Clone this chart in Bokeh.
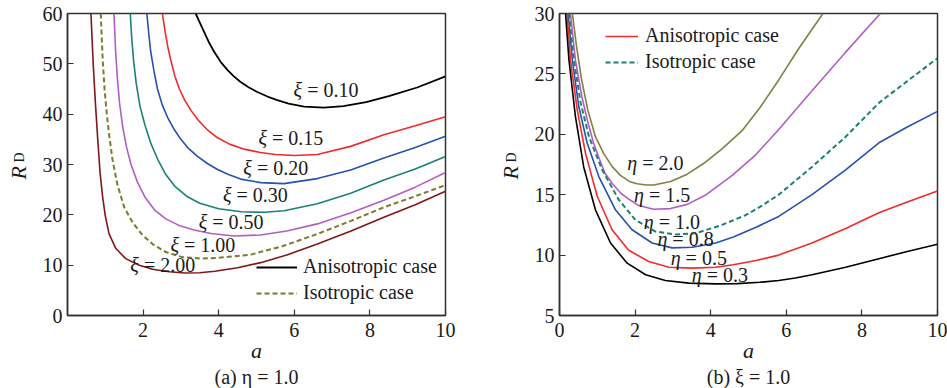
from bokeh.plotting import figure
from bokeh.layouts import row
from bokeh.models import Range1d, Label, Legend, LegendItem, FixedTicker, Title, LinearAxis
from bokeh.embed import file_html
from bokeh.resources import INLINE

FONT = "Liberation Serif"
NB = "\u00a0"

# ---------------- Panel (a): eta = 1.0 ----------------
a_xi010_x = [3.39, 3.50, 3.61, 3.74, 3.88, 4.05, 4.23, 4.40, 4.58, 4.80, 5.02, 5.29, 5.55, 5.85, 6.26, 6.78, 7.30, 7.90, 8.50, 9.25, 10.0]
a_xi010_y = [60, 58.2, 56.4, 54.3, 52.4, 50.4, 48.8, 47.5, 46.4, 45.3, 44.4, 43.5, 42.8, 42.1, 41.5, 41.3, 41.6, 42.4, 43.6, 45.3, 47.5]

a_xi015_x = [2.51, 2.58, 2.65, 2.74, 2.84, 2.96, 3.10, 3.27, 3.46, 3.70, 3.97, 4.30, 4.70, 5.10, 5.50, 6.00, 6.61, 7.49, 8.37, 9.20, 10.0]
a_xi015_y = [60, 56.5, 53.5, 50.5, 47.6, 45.0, 42.8, 40.7, 38.8, 36.9, 35.3, 34.0, 33.0, 32.4, 32.0, 31.8, 32.0, 33.6, 35.9, 37.7, 39.5]

a_xi020_x = [2.10, 2.15, 2.20, 2.29, 2.38, 2.50, 2.65, 2.82, 3.00, 3.20, 3.44, 3.70, 3.97, 4.26, 4.58, 5.11, 5.73, 6.61, 7.49, 8.37, 9.20, 10.0]
a_xi020_y = [60, 56, 52.5, 48.5, 45.0, 42.0, 39.3, 37.0, 35.0, 33.2, 31.6, 30.2, 29.0, 28.0, 27.1, 26.4, 26.2, 27.2, 28.9, 31.3, 33.4, 35.6]

a_xi030_x = [1.66, 1.70, 1.75, 1.82, 1.92, 2.05, 2.20, 2.40, 2.60, 2.85, 3.15, 3.50, 4.00, 4.60, 5.20, 5.73, 6.61, 7.49, 8.37, 9.20, 10.0]
a_xi030_y = [60, 55, 50.5, 46, 41.5, 37.8, 34.3, 30.8, 28.0, 25.6, 23.7, 22.3, 21.2, 20.6, 20.5, 20.8, 22.2, 24.3, 26.9, 29.1, 31.6]

a_xi050_x = [1.23, 1.27, 1.32, 1.38, 1.46, 1.56, 1.68, 1.85, 2.05, 2.30, 2.60, 2.95, 3.35, 3.80, 4.40, 5.11, 5.80, 6.61, 7.50, 8.37, 9.20, 10.0]
a_xi050_y = [60, 53, 47, 42, 37.5, 33.5, 30, 26.5, 23.5, 21.0, 19.2, 17.9, 17.0, 16.3, 15.8, 16.0, 16.8, 18.2, 20.4, 22.9, 25.5, 28.4]

a_xi100_x = [0.88, 0.93, 0.98, 1.04, 1.10, 1.19, 1.32, 1.50, 1.72, 1.98, 2.25, 2.60, 3.04, 3.57, 4.05, 4.85, 5.70, 6.61, 7.50, 8.37, 9.20, 10.0]
a_xi100_y = [60, 51, 45, 40, 36, 31, 26, 21.5, 18.5, 16.0, 14.2, 12.6, 11.6, 11.3, 11.5, 12.1, 13.8, 16.2, 18.8, 21.5, 23.7, 25.9]

a_xi200_x = [0.62, 0.68, 0.74, 0.80, 0.86, 0.93, 1.00, 1.10, 1.28, 1.54, 1.90, 2.25, 2.69, 3.10, 3.50, 3.90, 4.50, 5.11, 5.80, 6.61, 7.50, 8.37, 9.20, 10.0]
a_xi200_y = [60, 50, 42, 35, 28.5, 23.5, 19.8, 16.2, 13.3, 11.3, 10.0, 9.2, 8.7, 8.45, 8.5, 8.8, 9.5, 10.5, 12.0, 14.2, 16.8, 19.5, 22.0, 24.7]

a_label_sym = "ξ"
a_label_val = ["= 0.10", "= 0.15", "= 0.20", "= 0.30", "= 0.50", "= 1.00", "= 2.00"]
a_label_x = [6.83, 5.90, 5.50, 4.96, 4.32, 3.57, 2.51]
a_label_y = [44.8, 35.3, 29.3, 23.9, 18.5, 14.1, 10.0]
a_xticks = [2, 4, 6, 8, 10]
a_yticks = [0, 10, 20, 30, 40, 50, 60]

# ---------------- Panel (b): xi = 1.0 ----------------
b_eta20_x = [0.34, 0.45, 0.58, 0.75, 0.95, 1.17, 1.40, 1.61, 1.85, 2.05, 2.30, 2.49, 2.94, 3.38, 3.82, 4.30, 4.83, 5.30, 5.80, 6.33, 6.97]
b_eta20_y = [30, 27.3, 24.6, 22.0, 19.8, 18.4, 17.3, 16.6, 16.1, 15.9, 15.8, 15.8, 16.1, 16.7, 17.6, 18.8, 20.3, 22.2, 24.5, 27.1, 30]

b_eta15_x = [0.29, 0.42, 0.60, 0.75, 0.90, 1.05, 1.20, 1.40, 1.63, 1.85, 2.10, 2.49, 2.94, 3.38, 3.88, 4.57, 5.19, 5.80, 6.68, 7.57, 8.49]
b_eta15_y = [30, 26.15, 23.0, 21.0, 19.3, 18.0, 16.8, 15.9, 15.1, 14.6, 14.1, 13.8, 13.85, 14.2, 15.0, 16.6, 18.3, 20.4, 23.6, 26.8, 30]

b_iso_x = [0.25, 0.38, 0.56, 0.78, 1.13, 1.57, 2.01, 2.54, 3.07, 3.60, 4.30, 4.92, 5.36, 5.80, 6.68, 7.57, 8.45, 9.20, 10.0]
b_iso_y = [30, 26.15, 22.6, 19.8, 17.05, 14.57, 12.9, 11.95, 11.7, 11.8, 12.5, 13.3, 14.1, 15.0, 17.3, 19.8, 22.6, 24.4, 26.3]

b_eta08_x = [0.23, 0.34, 0.51, 0.73, 1.04, 1.48, 1.92, 2.45, 2.98, 3.51, 4.13, 4.60, 5.20, 5.80, 6.68, 7.57, 8.45, 9.20, 10.0]
b_eta08_y = [30, 26.15, 22.3, 19.3, 16.5, 13.75, 12.1, 11.0, 10.6, 10.65, 11.0, 11.5, 12.3, 13.2, 15.0, 17.05, 19.3, 20.6, 21.9]

b_eta05_x = [0.20, 0.29, 0.47, 0.69, 1.00, 1.39, 1.83, 2.36, 2.89, 3.51, 4.13, 4.60, 5.20, 5.80, 6.68, 7.57, 8.45, 9.20, 10.0]
b_eta05_y = [30, 26.15, 22.0, 18.4, 14.85, 12.1, 10.4, 9.47, 9.0, 8.92, 9.0, 9.2, 9.55, 10.0, 11.0, 12.2, 13.5, 14.4, 15.3]

b_eta03_x = [0.16, 0.25, 0.42, 0.64, 0.95, 1.35, 1.79, 2.28, 2.80, 3.42, 4.13, 4.70, 5.30, 5.80, 6.24, 6.68, 7.57, 8.45, 9.20, 10.0]
b_eta03_y = [30, 26.15, 21.5, 17.3, 13.75, 11.0, 9.33, 8.37, 7.9, 7.68, 7.62, 7.64, 7.75, 7.9, 8.1, 8.37, 9.0, 9.7, 10.3, 10.9]

b_label_sym = "η"
b_label_val = ["= 2.0", "= 1.5", "= 1.0", "= 0.8", "= 0.5", "= 0.3"]
b_label_x = [2.53, 2.71, 2.97, 3.33, 3.68, 4.24]
b_label_y = [17.6, 15.0, 12.7, 11.3, 9.75, 8.34]
b_xticks = [0, 2, 4, 6, 8, 10]
b_yticks = [5, 10, 15, 20, 25, 30]

legend_labels = ["Anisotropic case", "Isotropic case"]
captions = ["(a) η = 1.0", "(b) ξ = 1.0"]

AX = "#333333"
TXT = "#1a1a1a"
FS = "20px"


def make_fig(width, left, right, xr, yr, xticks, yticks, caption):
    p = figure(width=width, height=388, output_backend="svg", toolbar_location=None,
               x_range=Range1d(*xr), y_range=Range1d(*yr),
               min_border_left=left, min_border_right=right,
               min_border_top=13, min_border_bottom=73)
    p.xaxis.ticker = FixedTicker(ticks=xticks)
    p.yaxis.ticker = FixedTicker(ticks=yticks)
    for ax in (p.xaxis[0], p.yaxis[0]):
        ax.major_tick_in = 6
        ax.major_tick_out = 0
        ax.minor_tick_line_color = None
        ax.axis_line_color = AX
        ax.axis_line_width = 1.5
        ax.major_tick_line_color = AX
        ax.major_tick_line_width = 1.2
        ax.major_label_text_font = FONT
        ax.major_label_text_font_size = FS
        ax.major_label_text_color = TXT
    p.xaxis.major_label_standoff = 7
    p.yaxis.major_label_standoff = 5
    # x axis label
    p.xaxis.axis_label = "a"
    p.xaxis.axis_label_text_font = FONT
    p.xaxis.axis_label_text_font_style = "italic"
    p.xaxis.axis_label_text_font_size = "22px"
    p.xaxis.axis_label_text_color = TXT
    p.xaxis.axis_label_standoff = -2
    # y axis label: subscript "D" on the inner axis, italic "R" on an outer bare axis
    p.yaxis.axis_label = NB * 4 + "D"
    p.yaxis.axis_label_text_font = FONT
    p.yaxis.axis_label_text_font_style = "normal"
    p.yaxis.axis_label_text_font_size = "14px"
    p.yaxis.axis_label_text_color = TXT
    p.yaxis.axis_label_standoff = 13
    outer = LinearAxis(ticker=FixedTicker(ticks=[]), axis_label="R" + NB * 3,
                       axis_label_text_font=FONT, axis_label_text_font_style="italic",
                       axis_label_text_font_size="22px", axis_label_text_color=TXT,
                       axis_line_color=None, major_tick_line_color=None,
                       minor_tick_line_color=None, axis_label_standoff=-22)
    p.add_layout(outer, "left")
    t = Title(text=caption, align="center", text_font=FONT, text_font_size=FS,
              text_font_style="normal", text_color=TXT, standoff=-3)
    p.add_layout(t, "below")
    p.xgrid.visible = False
    p.ygrid.visible = False
    p.outline_line_color = AX
    p.outline_line_width = 1.5
    p.background_fill_color = "white"
    p.border_fill_color = "white"
    return p


def add_curve_label(p, x, y, sym, val, sym_w, val_w):
    total = sym_w + 5 + val_w
    left = -total / 2
    p.add_layout(Label(x=x, y=y, text=sym, x_offset=left + sym_w,
                       text_font=FONT, text_font_size=FS, text_font_style="italic",
                       text_align="right", text_baseline="middle", text_color=TXT))
    p.add_layout(Label(x=x, y=y, text=val, x_offset=left + sym_w + 5,
                       text_font=FONT, text_font_size=FS, text_font_style="normal",
                       text_align="left", text_baseline="middle", text_color=TXT))


def add_legend(p, renderers, loc, glyph_w, standoff):
    items = [LegendItem(label=l, renderers=[r]) for l, r in zip(legend_labels, renderers)]
    lg = Legend(items=items, location=loc)
    lg.background_fill_alpha = 0
    lg.border_line_alpha = 0
    lg.padding = 0
    lg.margin = 0
    lg.spacing = 3
    lg.glyph_width = glyph_w
    lg.glyph_height = 22
    lg.label_height = 22
    lg.label_standoff = standoff
    lg.label_text_font = FONT
    lg.label_text_font_size = FS
    lg.label_text_color = TXT
    p.add_layout(lg)


# ----- panel (a)
pa = make_fig(470, 67, 25, (0, 10), (0, 60), a_xticks, a_yticks, captions[0])
r010 = pa.line(a_xi010_x, a_xi010_y, line_color="#000000", line_width=1.8)
pa.line(a_xi015_x, a_xi015_y, line_color="#f22a2a", line_width=1.6)
pa.line(a_xi020_x, a_xi020_y, line_color="#2452b0", line_width=1.6)
pa.line(a_xi030_x, a_xi030_y, line_color="#1c8078", line_width=1.6)
pa.line(a_xi050_x, a_xi050_y, line_color="#b45cc4", line_width=1.6)
r100 = pa.line(a_xi100_x, a_xi100_y, line_color="#7d7a2e", line_width=2, line_dash="5 3")
pa.line(a_xi200_x, a_xi200_y, line_color="#801818", line_width=1.6)
for v, x, y in zip(a_label_val, a_label_x, a_label_y):
    add_curve_label(pa, x, y, a_label_sym, v, 9, 51)
add_legend(pa, [r010, r100], (189, 11), 41, 6)

# ----- panel (b)
pb = make_fig(477, 89, 10, (0, 10), (5, 30), b_xticks, b_yticks, captions[1])
pb.line(b_eta20_x, b_eta20_y, line_color="#808040", line_width=1.6)
pb.line(b_eta15_x, b_eta15_y, line_color="#b45cc4", line_width=1.6)
pb.line(b_eta08_x, b_eta08_y, line_color="#2452b0", line_width=1.6)
r05 = pb.line(b_eta05_x, b_eta05_y, line_color="#f22a2a", line_width=1.6)
pb.line(b_eta03_x, b_eta03_y, line_color="#000000", line_width=1.6)
riso = pb.line(b_iso_x, b_iso_y, line_color="#1c8078", line_width=2, line_dash="5 3")
for v, x, y in zip(b_label_val, b_label_x, b_label_y):
    add_curve_label(pb, x, y, b_label_sym, v, 10, 41)
add_legend(pb, [r05, riso], (46, 242), 33, 7)

layout = row(pa, pb)
open("out.html", "w").write(file_html(layout, INLINE))
